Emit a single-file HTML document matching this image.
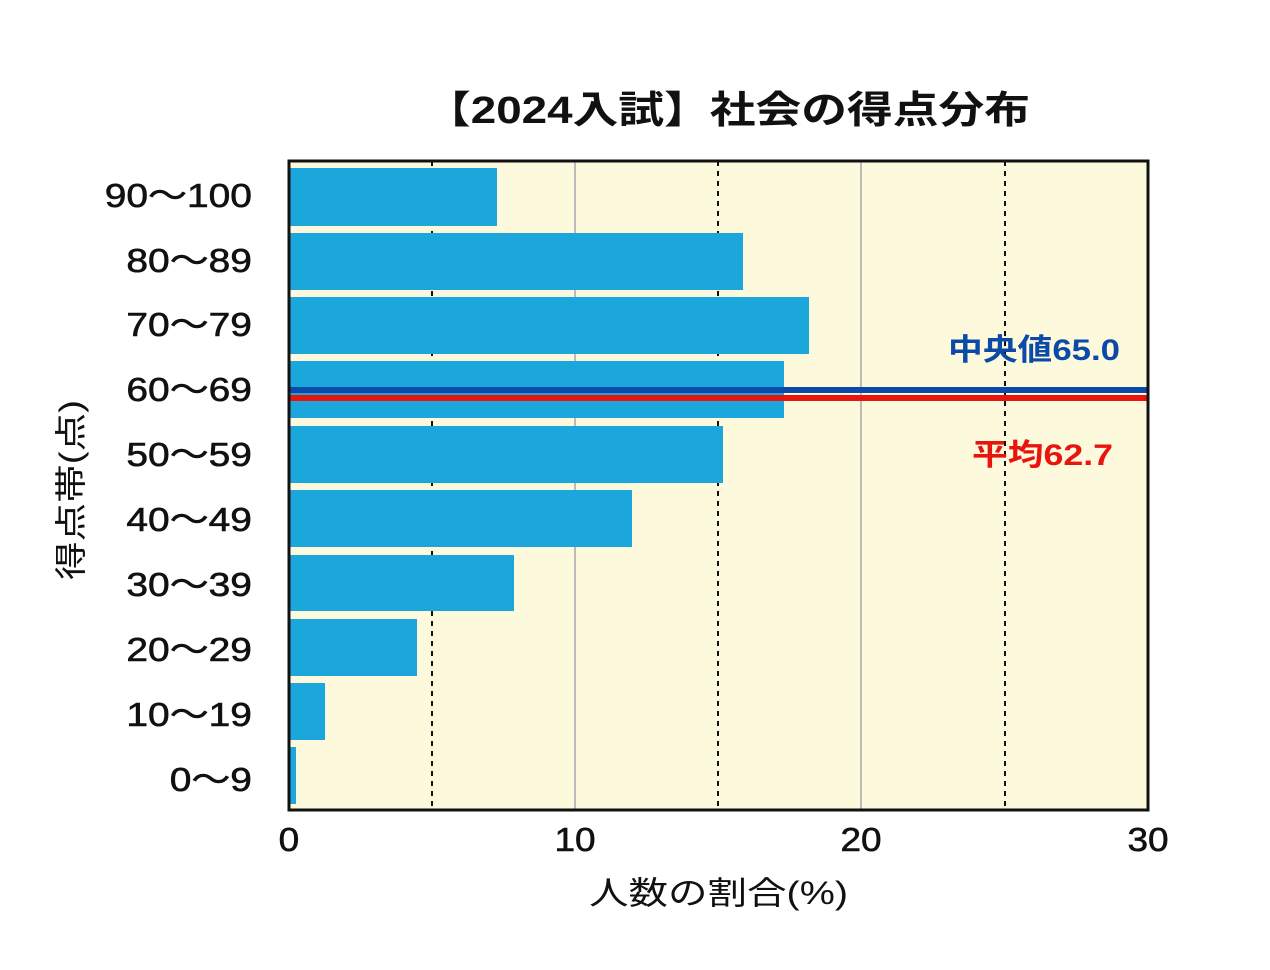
<!DOCTYPE html>
<html><head><meta charset="utf-8"><style>
body{margin:0;background:#fff;width:1270px;height:970px;overflow:hidden}
svg{display:block}
text{font-family:"Liberation Sans","Noto Sans CJK JP",sans-serif}
</style></head><body>
<svg width="1270" height="970" xmlns="http://www.w3.org/2000/svg">
<text x="425" y="123" font-size="38" font-weight="bold" fill="#111" textLength="605" lengthAdjust="spacingAndGlyphs">【2024入試】社会の得点分布</text>
<rect x="289" y="161" width="859" height="649" fill="#fdf9dc"/>
<g stroke="#111" stroke-width="2" stroke-dasharray="5,5">
<line x1="432" y1="161" x2="432" y2="810"/><line x1="718" y1="161" x2="718" y2="810"/><line x1="1005" y1="161" x2="1005" y2="810"/>
</g>
<g stroke="#bbb" stroke-width="2">
<line x1="575" y1="161" x2="575" y2="810"/><line x1="861" y1="161" x2="861" y2="810"/>
</g>
<g fill="#1ba6dc">
<rect x="290" y="168" width="207" height="58"/>
<rect x="290" y="233" width="453" height="57"/>
<rect x="290" y="297" width="519" height="57"/>
<rect x="290" y="361" width="494" height="57"/>
<rect x="290" y="426" width="433" height="57"/>
<rect x="290" y="490" width="342" height="57"/>
<rect x="290" y="555" width="224" height="56"/>
<rect x="290" y="619" width="127" height="57"/>
<rect x="290" y="683" width="35" height="57"/>
<rect x="290" y="747" width="6" height="57"/>
</g>
<rect x="289" y="387" width="859" height="6" fill="#0b4aa8"/>
<rect x="289" y="395" width="859" height="6" fill="#e8150f"/>
<text x="948" y="360" font-size="30" font-weight="bold" fill="#0b4aa8" textLength="172" lengthAdjust="spacingAndGlyphs">中央値65.0</text>
<text x="972" y="465" font-size="30" font-weight="bold" fill="#e8150f" textLength="141" lengthAdjust="spacingAndGlyphs">平均62.7</text>
<rect x="289" y="161" width="859" height="649" fill="none" stroke="#111" stroke-width="3"/>
<g font-size="33" fill="#111" text-anchor="end" transform="scale(1.18,1)" stroke="#111" stroke-width="0.6">
<text x="213.5" y="207">90〜100</text>
<text x="213.5" y="272">80〜89</text>
<text x="213.5" y="336">70〜79</text>
<text x="213.5" y="401">60〜69</text>
<text x="213.5" y="466">50〜59</text>
<text x="213.5" y="531">40〜49</text>
<text x="213.5" y="596">30〜39</text>
<text x="213.5" y="661">20〜29</text>
<text x="213.5" y="726">10〜19</text>
<text x="213.5" y="791">0〜9</text>
</g>
<g font-size="33" fill="#111" text-anchor="middle" transform="scale(1.12,1)" stroke="#111" stroke-width="0.6">
<text x="258" y="851">0</text><text x="513.4" y="851">10</text><text x="768.8" y="851">20</text><text x="1025" y="851">30</text>
</g>
<text x="589" y="904" font-size="32" fill="#111" textLength="259" lengthAdjust="spacingAndGlyphs">人数の割合(%)</text>
<text transform="translate(82,580) rotate(-90)" font-size="32" fill="#111" textLength="180" lengthAdjust="spacingAndGlyphs">得点帯(点)</text>
</svg>
</body></html>
